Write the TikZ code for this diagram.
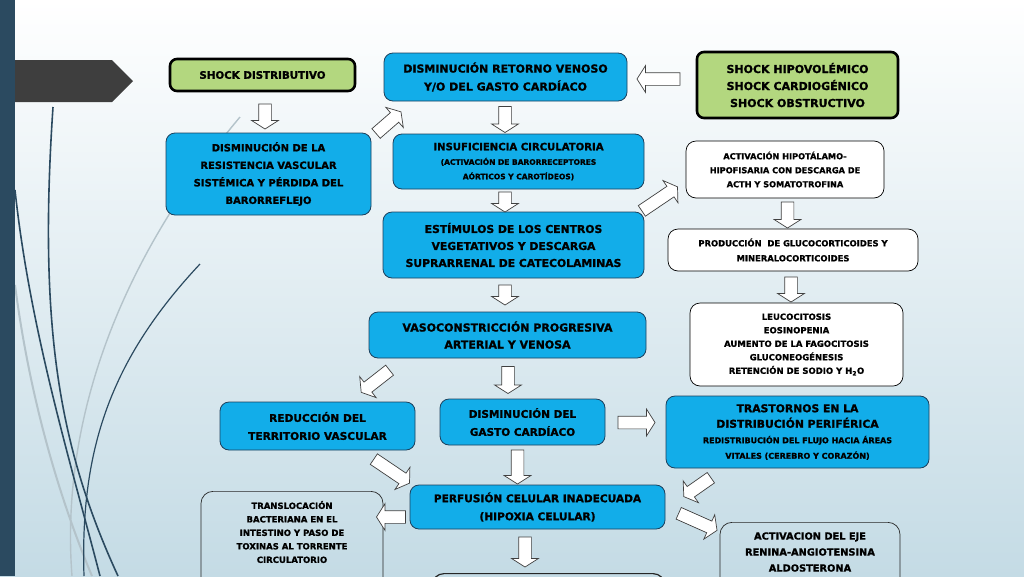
\documentclass[tikz,border=0pt]{standalone}
\usepackage{fontspec}
\setmainfont{DejaVu Sans}[BoldFeatures={FakeBold=1.2}]
\usetikzlibrary{shapes.arrows}
\definecolor{bgB}{HTML}{C4DBE5}
\definecolor{cyanB}{HTML}{12ADE9}
\definecolor{edgeB}{HTML}{1B3F5C}
\definecolor{greenB}{HTML}{B3D77F}
\definecolor{barC}{HTML}{2B4A60}
\definecolor{tabC}{HTML}{3E3E3E}
\definecolor{lightC}{HTML}{B4C3CA}
\newcommand\fz[2]{\fontsize{#1}{#2}\selectfont}
\begin{document}
\begin{tikzpicture}[x=1pt,y=-1pt,
  box/.style={align=center, inner sep=0pt, font=\bfseries, text=black},
  bluebox/.style={box, fill=cyanB, draw=edgeB, line width=0.8pt, rounded corners=9pt},
  whitebox/.style={box, fill=white, draw=black, line width=0.7pt, rounded corners=10pt},
  clearbox/.style={box, draw=black!85, line width=0.7pt, rounded corners=12pt},
  greenbox/.style={box, fill=greenB, draw=black, line width=2.6pt, rounded corners=7pt},
  barrow/.style={single arrow, draw=black!75, fill=white, line width=0.7pt, inner xsep=0pt, inner ysep=6pt, single arrow head extend=7pt, single arrow tip angle=115, minimum height=#1pt},
]
\useasboundingbox (0,0) rectangle (1024,576);
\clip (0,0) rectangle (1024,576);
\shade[top color=white, bottom color=bgB] (0,0) rectangle (1024,576);
% decorative curves
\draw[lightC, line width=1.4pt] (240,117) .. controls (120,260) and (60,420) .. (72,576);
\draw[lightC, line width=2pt] (15,285) .. controls (30,400) and (60,500) .. (92,576);
\draw[barC, line width=1.6pt] (15,190) .. controls (30,330) and (70,460) .. (100,576);
\draw[barC, line width=1.6pt] (53,107) .. controls (38,330) and (60,450) .. (118,576);
\draw[barC, line width=1.2pt] (200,264) .. controls (110,360) and (80,450) .. (84,576);
% tab and bar
\fill[tabC] (0,60) -- (112,60) -- (133,81) -- (112,102) -- (0,102) -- cycle;
\fill[barC] (0,0) rectangle (15,576);
% boxes
\node[greenbox, minimum width=185pt, minimum height=32pt, font=\bfseries\fz{10.3}{17}] (sd) at (262.5,75) {SHOCK DISTRIBUTIVO};
\node[bluebox, minimum width=243pt, minimum height=48pt, font=\bfseries\fz{11}{18}] (dr) at (505.5,77) {DISMINUCIÓN RETORNO VENOSO\\Y/O DEL GASTO CARDÍACO};
\node[greenbox, minimum width=201pt, minimum height=66pt, font=\bfseries\fz{11}{17}] (sh) at (797.5,85) {SHOCK HIPOVOLÉMICO\\SHOCK CARDIOGÉNICO\\SHOCK OBSTRUCTIVO};
\node[bluebox, minimum width=205pt, minimum height=82pt, font=\bfseries\fz{10}{17.5}] (drv) at (268.5,174) {DISMINUCIÓN DE LA\\RESISTENCIA VASCULAR\\SISTÉMICA Y PÉRDIDA DEL\\BARORREFLEJO};
\node[bluebox, minimum width=251pt, minimum height=55pt, font=\bfseries\fz{10.1}{14.5}] (ic) at (518.5,161.5) {INSUFICIENCIA CIRCULATORIA\\{\fz{7.5}{14.5}(ACTIVACIÓN DE BARORRECEPTORES}\\{\fz{7.5}{14.5}AÓRTICOS Y CAROTÍDEOS)}};
\node[whitebox, minimum width=198pt, minimum height=57pt, font=\bfseries\fz{8.2}{14}] (ah) at (785,169.5) {ACTIVACIÓN HIPOTÁLAMO-\\HIPOFISARIA CON DESCARGA DE\\ACTH Y SOMATOTROFINA};
\node[bluebox, minimum width=261pt, minimum height=66pt, font=\bfseries\fz{10.8}{17}] (es) at (513.5,245) {ESTÍMULOS DE LOS CENTROS\\VEGETATIVOS Y DESCARGA\\SUPRARRENAL DE CATECOLAMINAS};
\node[whitebox, minimum width=250pt, minimum height=42pt, font=\bfseries\fz{8.4}{15}] (pg) at (793,250) {PRODUCCIÓN \ DE GLUCOCORTICOIDES Y\\MINERALOCORTICOIDES};
\node[bluebox, minimum width=277pt, minimum height=46pt, font=\bfseries\fz{11}{17}] (vc) at (507.5,335) {VASOCONSTRICCIÓN PROGRESIVA\\ARTERIAL Y VENOSA};
\node[whitebox, minimum width=213pt, minimum height=83pt, font=\bfseries\fz{8.5}{13.5}] (le) at (796.5,344.5) {LEUCOCITOSIS\\EOSINOPENIA\\AUMENTO DE LA FAGOCITOSIS\\GLUCONEOGÉNESIS\\RETENCIÓN DE SODIO Y H\textsubscript{2}O};
\node[bluebox, minimum width=195pt, minimum height=48pt, font=\bfseries\fz{10.6}{18}] (rt) at (317.5,426) {REDUCCIÓN DEL\\TERRITORIO VASCULAR};
\node[bluebox, minimum width=165pt, minimum height=46pt, font=\bfseries\fz{10.5}{18}] (dg) at (522.5,422) {DISMINUCIÓN DEL\\GASTO CARDÍACO};
\node[bluebox, minimum width=263pt, minimum height=72pt, font=\bfseries\fz{10.8}{15.5}] (tr) at (797.5,432) {TRASTORNOS EN LA\\DISTRIBUCIÓN PERIFÉRICA\\{\fz{8}{14.5}REDISTRIBUCIÓN DEL FLUJO HACIA ÁREAS}\\{\fz{8}{14.5}VITALES (CEREBRO Y CORAZÓN)}};
\node[clearbox, minimum width=182pt, minimum height=98pt, anchor=north] (tb) at (292,491) {};
\node[box, font=\bfseries\fz{8.5}{13.5}] (tbt) at (292,532) {TRANSLOCACIÓN\\BACTERIANA EN EL\\INTESTINO Y PASO DE\\TOXINAS AL TORRENTE\\CIRCULATORIO};
\node[bluebox, minimum width=255pt, minimum height=44pt, font=\bfseries\fz{10.6}{18}] (pc) at (537.5,507) {PERFUSIÓN CELULAR INADECUADA\\(HIPOXIA CELULAR)};
\node[clearbox, minimum width=180pt, minimum height=66pt, anchor=north] (ae) at (810,522) {};
\node[box, font=\bfseries\fz{9.8}{16}] (aet) at (810,552) {ACTIVACION DEL EJE\\RENINA-ANGIOTENSINA\\ALDOSTERONA};
\node[clearbox, line width=1.2pt, minimum width=233pt, minimum height=54pt, anchor=north] (bx) at (548.5,573) {};
% block arrows
\node[barrow=25, rotate=-90] (a1) at (265,114.5) {};
\node[barrow=33, rotate=41] (a2) at (387,124) {};
\node[barrow=43, rotate=180] (a3) at (660.5,79) {};
\node[barrow=26, rotate=-90] (a4) at (505,117.5) {};
\node[barrow=20, rotate=-90] (a5) at (505,200) {};
\node[barrow=43, rotate=34] (a6) at (658,200) {};
\node[barrow=26, rotate=-90] (a7) at (787.5,213) {};
\node[barrow=25, rotate=-90] (a8) at (791,287.5) {};
\node[barrow=20, rotate=-90] (a9) at (505,293) {};
\node[barrow=27, rotate=-90] (a10) at (508,378) {};
\node[barrow=36, rotate=218] (a11) at (377,380) {};
\node[barrow=43, rotate=-34] (a12) at (390,470) {};
\node[barrow=37, rotate=0] (a13) at (634.5,422.5) {};
\node[barrow=34, rotate=-90] (a14) at (517.5,465) {};
\node[barrow=33, rotate=215] (a15) at (699,486) {};
\node[barrow=29, rotate=180] (a16) at (393,517) {};
\node[barrow=42, rotate=-24] (a17) at (696,521) {};
\node[barrow=30, rotate=-90] (a18) at (525,550) {};
\end{tikzpicture}
\end{document}
